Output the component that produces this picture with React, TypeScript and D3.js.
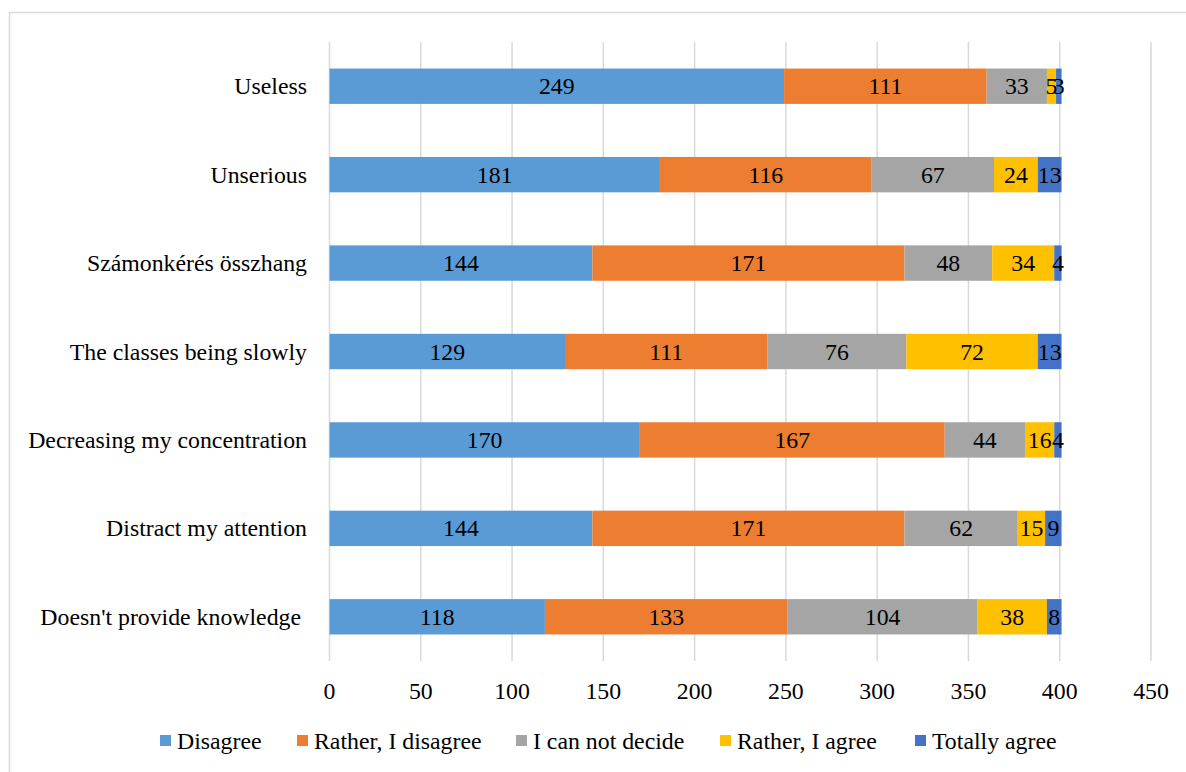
import React from "react";
import * as d3 from "d3";

const categories = [
  "Useless",
  "Unserious",
  "Számonkérés összhang",
  "The classes being slowly",
  "Decreasing my concentration",
  "Distract my attention",
  "Doesn't provide knowledge ",
];

const seriesNames = [
  "Disagree",
  "Rather, I disagree",
  "I can not decide",
  "Rather, I agree",
  "Totally agree",
];

const disagree = [249, 181, 144, 129, 170, 144, 118];
const ratherDisagree = [111, 116, 171, 111, 167, 171, 133];
const cannotDecide = [33, 67, 48, 76, 44, 62, 104];
const ratherAgree = [5, 24, 34, 72, 16, 15, 38];
const totallyAgree = [3, 13, 4, 13, 4, 9, 8];

const xTicks = [0, 50, 100, 150, 200, 250, 300, 350, 400, 450];

const colors = ["#5B9BD5", "#ED7D31", "#A5A5A5", "#FFC000", "#4472C4"];

const W = 1186;
const H = 772;
const FONT = "'Liberation Serif', 'Times New Roman', serif";
const FS = 23.8;

export default function App() {
  const seriesValues = [disagree, ratherDisagree, cannotDecide, ratherAgree, totallyAgree];
  const rows = categories.map((c, i) => {
    const r: Record<string, number | string> = { category: c };
    seriesNames.forEach((s, j) => (r[s] = seriesValues[j][i]));
    return r;
  });
  const stacked = d3.stack<Record<string, number | string>>().keys(seriesNames)(rows as any);

  const x = d3.scaleLinear().domain([0, 450]).range([329.5, 1151]);
  const y = d3.scaleBand().domain(categories).range([42, 661]).paddingInner(0.6).paddingOuter(0.3);

  const legendX = [160, 297, 516, 720, 915];

  return (
    <svg
      width={W}
      height={H}
      style={{ position: "absolute", left: 0, top: 0, background: "#fff" }}
      fontFamily={FONT}
    >
      <rect x={9.5} y={12.5} width={W} height={H} fill="#fff" stroke="#D9D9D9" strokeWidth={1.5} />
      {/* vertical gridlines */}
      {xTicks.map((t) => (
        <line key={t} x1={x(t)} x2={x(t)} y1={42} y2={661} stroke="#D9D9D9" strokeWidth={1.5} />
      ))}
      {/* stacked bars */}
      {stacked.map((layer, si) => (
        <g key={layer.key}>
          {layer.map((d, i) => (
            <rect
              key={i}
              x={x(d[0])}
              y={y(categories[i])}
              width={x(d[1]) - x(d[0])}
              height={y.bandwidth()}
              fill={colors[si]}
            />
          ))}
        </g>
      ))}
      {/* value labels */}
      {stacked.map((layer) => (
        <g key={layer.key + "-lbl"}>
          {layer.map((d, i) => (
            <text
              key={i}
              x={(x(d[0]) + x(d[1])) / 2}
              y={(y(categories[i]) as number) + y.bandwidth() / 2}
              textAnchor="middle"
              dominantBaseline="central"
              fontSize={FS}
              fill="#000"
            >
              {d[1] - d[0]}
            </text>
          ))}
        </g>
      ))}
      {/* category labels */}
      {categories.map((c) => (
        <text
          key={c}
          x={307}
          y={(y(c) as number) + y.bandwidth() / 2}
          textAnchor="end"
          dominantBaseline="central"
          fontSize={FS}
          fill="#000"
          style={{ whiteSpace: "pre" }}
        >
          {c}
        </text>
      ))}
      {/* x tick labels */}
      {xTicks.map((t) => (
        <text key={t} x={x(t)} y={699} textAnchor="middle" fontSize={FS} fill="#000">
          {t}
        </text>
      ))}
      {/* legend */}
      {seriesNames.map((s, i) => (
        <g key={s}>
          <rect x={legendX[i]} y={735} width={11} height={11} fill={colors[i]} />
          <text x={legendX[i] + 17} y={749} fontSize={FS} fill="#000">
            {s}
          </text>
        </g>
      ))}
    </svg>
  );
}
